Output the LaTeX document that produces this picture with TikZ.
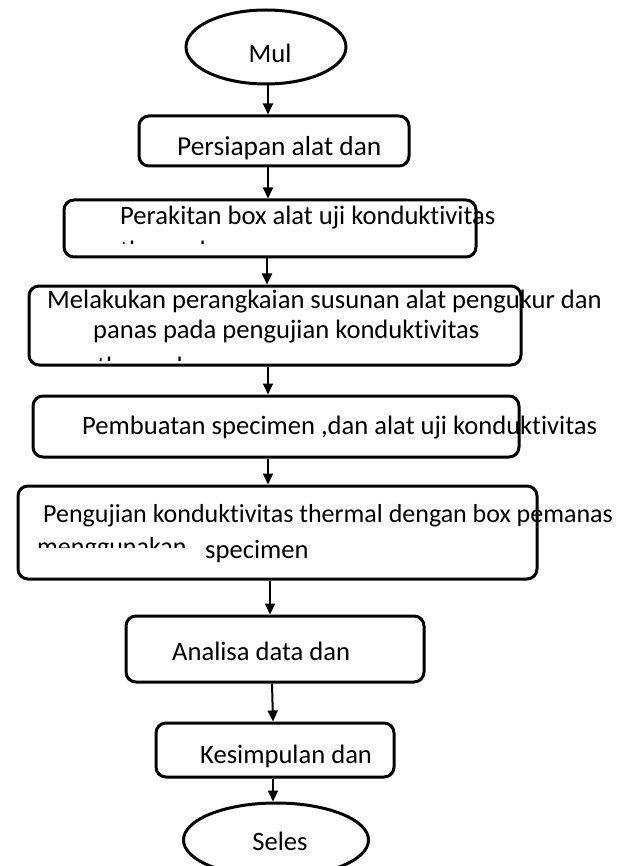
\documentclass[tikz,border=0pt]{standalone}
\usepackage{fontspec}
\setmainfont{Carlito}[Ligatures={NoCommon,NoRare}]
\usetikzlibrary{arrows.meta,shapes.geometric}
\tikzset{
  box/.style={draw, line width=3pt, rounded corners=10pt, rectangle, inner sep=0pt},
  term/.style={draw, line width=3pt, ellipse, inner sep=0pt},
  txt/.style={anchor=base west, inner sep=0pt, font=\fontsize{26.6}{30}\selectfont},
  ctxt/.style={anchor=base, inner sep=0pt, font=\fontsize{26.6}{30}\selectfont},
  narrowtxt/.style={txt, font=\fontsize{26}{30}\selectfont},
  widetxt/.style={txt, font=\fontsize{27.4}{30}\selectfont},
  arr/.style={line width=2pt, -{Triangle[length=11pt,width=10pt]}}
}
\begin{document}
\begin{tikzpicture}[x=1pt,y=-1pt]
\clip (0,0) rectangle (638,866);
\fill[white] (0,0) rectangle (638,866);
% shapes
\node[term, minimum width=160, minimum height=74] (mul) at (266,47) {};
\node[box, minimum width=270, minimum height=50] (b1) at (274,141) {};
\node[box, minimum width=412, minimum height=57] (b2) at (270,228.5) {};
\node[box, minimum width=492, minimum height=79] (b3) at (275,325.5) {};
\node[box, minimum width=486, minimum height=61] (b4) at (276,426.5) {};
\node[box, minimum width=519, minimum height=93] (b5) at (277.5,532.5) {};
\node[box, minimum width=298, minimum height=66] (b6) at (275,649) {};
\node[box, minimum width=238, minimum height=54] (b7) at (275,750) {};
\node[term, minimum width=185, minimum height=74] (sel) at (276,840) {};
% texts
\node[ctxt] (tmul) at (270,63) {Mul};
\node[widetxt] (t1) at (177,156) {Persiapan alat dan};
\node[txt] (t2a) at (120,225) {Perakitan box alat uji konduktivitas};
\begin{scope}
\clip (0,0) rectangle (638,244);
\node[txt] (t2b) at (120,260) {thermal};
\end{scope}
\node[txt] (t3a) at (47,308) {Melakukan perangkaian susunan alat pengukur dan};
\node[txt] (t3b) at (93,338) {panas pada pengujian konduktivitas};
\begin{scope}
\clip (0,0) rectangle (638,360);
\node[txt] (t3c) at (97,375) {thermal};
\end{scope}
\node[txt] (t4) at (82,434) {Pembuatan specimen ,dan alat uji konduktivitas};
\node[narrowtxt] (t5a) at (43,522) {Pengujian konduktivitas thermal dengan box pemanas};
\begin{scope}
\clip (0,0) rectangle (638,547);
\node[narrowtxt] (t5b) at (37,555.5) {menggunakan};
\end{scope}
\node[txt] (t5c) at (205,558) {specimen};
\node[txt] (t6) at (172,660) {Analisa data dan};
\node[txt] (t7) at (200,763) {Kesimpulan dan};
\node[ctxt] (tsel) at (280,850) {Seles};
% connectors
\coordinate (ax1) at (268,0);
\coordinate (ax3) at (267,0);
\coordinate (ax6) at (270,0);
\coordinate (ax7a) at (272,0);
\coordinate (ax7b) at (273,0);
\draw[arr] (mul.south -| ax1) -- (b1.north -| ax1);
\draw[arr] (b1.south -| ax1) -- (b2.north -| ax1);
\draw[arr] (b2.south -| ax3) -- (b3.north -| ax3);
\draw[arr] (b3.south -| ax1) -- (b4.north -| ax1);
\draw[arr] (b4.south -| ax1) -- (b5.north -| ax1);
\draw[arr] (b5.south -| ax6) -- (b6.north -| ax6);
\draw[arr] (b6.south -| ax7a) -- (b7.north -| ax7b);
\draw[arr] (b7.south -| ax7b) -- (sel.north -| ax7b);
\end{tikzpicture}
\end{document}
